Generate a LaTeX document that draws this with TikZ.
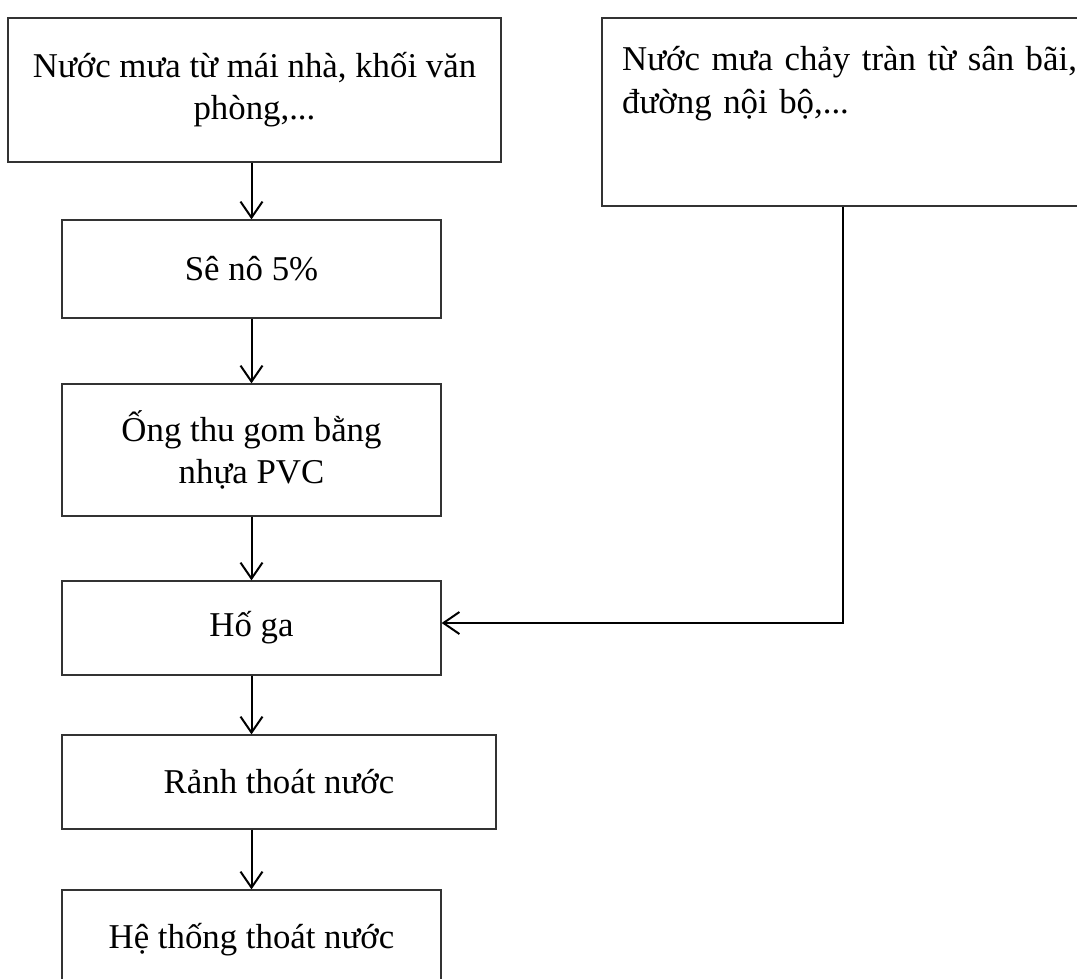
\documentclass[tikz,border=0pt]{standalone}
\usepackage{fontspec}
\setmainfont{Liberation Serif}
\usetikzlibrary{arrows.meta}
\begin{document}
\begin{tikzpicture}[x=1pt,y=-1pt,
  box/.style={draw=black!80, line width=1.3pt, inner sep=0pt, align=center,
    font=\fontsize{34.8}{42}\selectfont},
  lbl/.style={inner sep=0pt, align=left, font=\fontsize{34.8}{43}\selectfont},
  flow/.style={draw=black, line width=2pt, line join=miter,
    -{Straight Barb[length=16pt,width=22pt,line width=2pt]}}
]
\useasboundingbox (0,0) rectangle (1077,978);
\clip (0,0) rectangle (1077,978);

\node[box, minimum width=493pt, minimum height=144pt] (b1) at (254.5,90)
  {Nước mưa từ mái nhà, khối văn\\phòng,...};
\node[box, minimum width=518pt, minimum height=188pt] (r) at (861,112) {};
\node[lbl, anchor=base west, text width=520pt] (rt) at (622,70)
  {Nước mưa chảy tràn từ sân bãi,\\đường nội bộ,...};

\node[box, minimum width=379pt, minimum height=98pt] (b2) at (251.5,269) {Sê nô 5\%};
\node[box, minimum width=379pt, minimum height=132pt] (b3) at (251.5,450)
  {Ống thu gom bằng\\nhựa PVC};
\node[box, minimum width=379pt, minimum height=94pt] (b4) at (251.5,628) {Hố ga};
\node[box, minimum width=434pt, minimum height=94pt] (b5) at (279,782) {Rảnh thoát nước};
\node[box, minimum width=379pt, minimum height=100pt] (b6) at (251.5,940) {Hệ thống thoát nước};

\coordinate (rc) at (843,623);

\draw[flow] (b2.north |- b1.south) -- (b2.north);
\draw[flow] (b2.south) -- (b3.north);
\draw[flow] (b3.south) -- (b4.north);
\draw[flow] (b4.south) -- (b4.south |- b5.north);
\draw[flow] (b6.north |- b5.south) -- (b6.north);
\draw[flow] (r.south -| rc) -- (rc) -- (b4.east |- rc);
\end{tikzpicture}
\end{document}
